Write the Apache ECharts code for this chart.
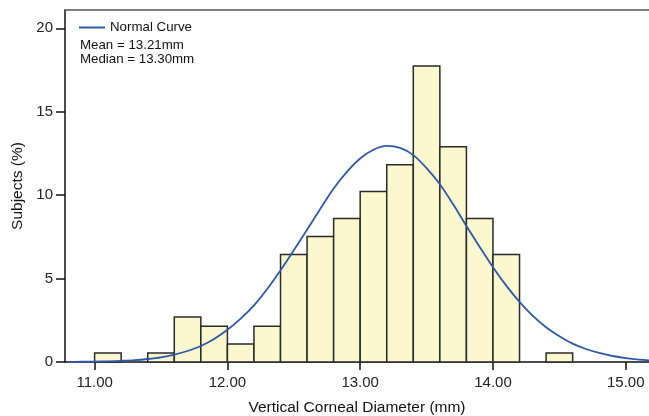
<!DOCTYPE html>
<html>
<head>
<meta charset="utf-8">
<script src="https://cdn.jsdelivr.net/npm/echarts@6/dist/echarts.min.js"></script>
<style>
  html, body { margin: 0; padding: 0; background: #fff; }
  #chart { width: 649px; height: 416px; }
</style>
</head>
<body>
<div id="chart"></div>
<script>
// Histogram bins (mm) and percentage of subjects
const binStart = [11.0, 11.2, 11.4, 11.6, 11.8, 12.0, 12.2, 12.4, 12.6, 12.8, 13.0, 13.2, 13.4, 13.6, 13.8, 14.0, 14.2, 14.4];
const binWidth = 0.2;
const percent = [0.54, 0, 0.54, 2.69, 2.15, 1.08, 2.15, 6.45, 7.53, 8.60, 10.22, 11.83, 17.74, 12.90, 8.60, 6.45, 0, 0.54];

// Normal curve, every 0.1 mm
const curveX = [10.8, 10.9, 11.0, 11.1, 11.2, 11.3, 11.4, 11.5, 11.6, 11.7, 11.8, 11.9, 12.0, 12.1, 12.2, 12.3, 12.4, 12.5, 12.6, 12.7, 12.8, 12.9, 13.0, 13.1, 13.2, 13.3, 13.4, 13.5, 13.6, 13.7, 13.8, 13.9, 14.0, 14.1, 14.2, 14.3, 14.4, 14.5, 14.6, 14.7, 14.8, 14.9, 15.0, 15.1, 15.2];
const curveY = [0.01, 0.015, 0.02, 0.04, 0.07, 0.11, 0.18, 0.28, 0.44, 0.66, 0.96, 1.38, 1.93, 2.6, 3.4, 4.38, 5.5, 6.7, 7.93, 9.18, 10.4, 11.4, 12.2, 12.72, 12.95, 12.83, 12.4, 11.62, 10.65, 9.45, 8.15, 6.9, 5.68, 4.58, 3.6, 2.76, 2.08, 1.54, 1.1, 0.78, 0.54, 0.36, 0.23, 0.14, 0.08];

const xTicks = [11, 12, 13, 14, 15];
const meanText = 'Mean = 13.21mm';
const medianText = 'Median = 13.30mm';

const chart = echarts.init(document.getElementById('chart'));

const barData = [];
binStart.forEach((s, i) => {
    if (percent[i] > 0) barData.push([s, s + binWidth, percent[i]]);
});

const font = 'Liberation Sans, Arial, sans-serif';

chart.setOption({
    animation: false,
    textStyle: { fontFamily: font },
    grid: { left: 65, top: 10, right: 0, bottom: 54, outerBoundsMode: 'none' },
    legend: {
        data: ['Normal Curve'],
        left: 74, top: 16,
        itemWidth: 26, itemHeight: 8,
        itemGap: 4,
        textStyle: { fontSize: 13.3, color: '#111', fontFamily: font },
        icon: 'path://M0,0 L26,0 L26,2 L0,2 Z'
    },
    graphic: [
        { type: 'text', left: 80, top: 39, style: { text: meanText, fontSize: 13.3, fill: '#111', fontFamily: font } },
        { type: 'text', left: 80, top: 53, style: { text: medianText, fontSize: 13.3, fill: '#111', fontFamily: font } }
    ],
    xAxis: [{
        type: 'value',
        min: 10.777, max: 15.175,
        name: 'Vertical Corneal Diameter (mm)',
        nameLocation: 'middle', nameGap: 38,
        nameTextStyle: { fontSize: 15.5, color: '#111' },
        axisLine: { lineStyle: { color: '#111', width: 1.5 } },
        axisTick: { length: 8, lineStyle: { color: '#111', width: 1.5 }, customValues: xTicks },
        axisLabel: { fontSize: 15, color: '#222', margin: 13, customValues: xTicks, formatter: v => v.toFixed(2) },
        splitLine: { show: false }
    }, {
        type: 'value', position: 'top',
        min: 10.777, max: 15.175,
        axisLine: { show: true, lineStyle: { color: '#555', width: 1.5 } },
        axisTick: { show: false }, axisLabel: { show: false }, splitLine: { show: false }
    }],
    yAxis: {
        type: 'value',
        min: 0, max: 21.1, interval: 5,
        name: 'Subjects (%)',
        nameLocation: 'middle', nameGap: 37,
        nameTextStyle: { fontSize: 15.5, color: '#111' },
        axisLine: { show: true, lineStyle: { color: '#111', width: 1.5 } },
        axisTick: { show: true, length: 9, lineStyle: { color: '#111', width: 1.5 } },
        axisLabel: { fontSize: 15, color: '#222', margin: 12, showMaxLabel: false },
        splitLine: { show: false }
    },
    series: [{
        type: 'custom',
        name: 'bars',
        data: barData,
        renderItem: function (params, api) {
            const p0 = api.coord([api.value(0), 0]);
            const p1 = api.coord([api.value(1), api.value(2)]);
            return {
                type: 'rect',
                shape: { x: p0[0], y: p1[1], width: p1[0] - p0[0], height: p0[1] - p1[1] },
                style: { fill: '#FBF7CF', stroke: '#2a2a2a', lineWidth: 1.5 }
            };
        },
        z: 2
    }, {
        type: 'line',
        name: 'Normal Curve',
        data: curveX.map((x, i) => [x, curveY[i]]),
        smooth: 0.3,
        showSymbol: false,
        lineStyle: { color: '#2F58A8', width: 1.8 },
        itemStyle: { color: '#2F58A8' },
        z: 3
    }]
});
</script>
</body>
</html>
